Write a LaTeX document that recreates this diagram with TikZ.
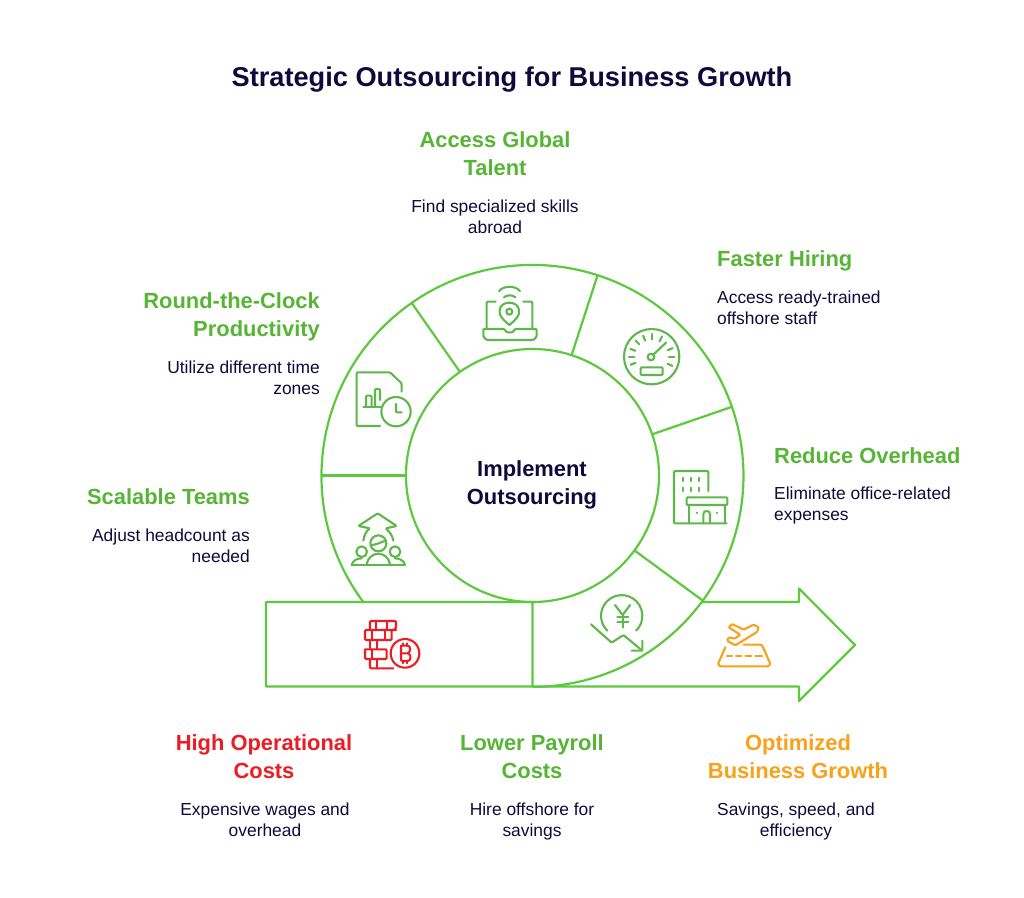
\documentclass[tikz,border=0pt]{standalone}
\usepackage{fontspec}
\usetikzlibrary{calc}
\setmainfont{Liberation Sans}
\definecolor{lineg}{HTML}{5CC93F}
\definecolor{headg}{HTML}{57B536}
\definecolor{icong}{HTML}{5DB74A}
\definecolor{navy}{HTML}{100A3C}
\definecolor{redc}{HTML}{EC1C24}
\definecolor{orangec}{HTML}{F9A11B}
\tikzset{
  outline/.style={draw=lineg,line width=2.2pt,line join=round},
  icon/.style={draw=icong,line width=2.1pt,line cap=round,line join=round,rounded corners=1pt},
  redicon/.style={icon,draw=redc},
  orangeicon/.style={icon,draw=orangec},
  head/.style={inner sep=0pt,font=\fontsize{21.9}{28}\selectfont\bfseries},
  body/.style={inner sep=0pt,text=navy,font=\fontsize{17.4}{21}\selectfont},
}
\begin{document}
\begin{tikzpicture}[x=1pt,y=1pt,yscale=-1]
\useasboundingbox (0,0) rectangle (1024,897);
\fill[white] (0,0) rectangle (1024,897);
\coordinate (c) at (532.5,475.5);
% arrow
\coordinate (barTL) at (266,602);
\coordinate (barTM) at (532.5,602);
\coordinate (barBM) at (532.5,686.5);
\coordinate (barBL) at (266,686.5);
\coordinate (arS) at (702,602);
\coordinate (tip) at (855,645);
\draw[outline] (barBM) -- (barTM) -- (barTL) -- (barBL) -- (barBM) -- (799,686.5) -- (799,701) -- (tip) -- (799,588.5) -- (799,602) -- (arS);
% rings
\draw[outline] (c) circle[radius=126.5pt];
\draw[outline] (363.3,602) arc[start angle=143.3,end angle=450,radius=211pt];
% dividers
\foreach \a in {180,235,288,341,36.3}
  \draw[outline] ($(c)+(\a:126.5pt)$) -- ($(c)+(\a:211pt)$);
% title
\node[inner sep=0pt,text=navy,font=\fontsize{27.2}{32}\selectfont\bfseries] (title) at (512,80) {Strategic Outsourcing for Business Growth};
% centre
\node[head,text=navy,align=center] (centre) at (532,485) {Implement\\Outsourcing};
% labels
\node[head,text=headg,align=center] (h1) at (495,154) {Access Global\\Talent};
\node[body,align=center] (b1) at (495,217) {Find specialized skills\\abroad};
\node[head,text=headg,anchor=west] (h2) at (717,261) {Faster Hiring};
\node[body,align=left,anchor=west] (b2) at (717,308) {Access ready-trained\\offshore staff};
\node[head,text=headg,align=right,anchor=east] (h3) at (320,317) {Round-the-Clock\\Productivity};
\node[body,align=right,anchor=east] (b3) at (320,378) {Utilize different time\\zones};
\node[head,text=headg,anchor=west] (h4) at (774,456) {Reduce Overhead};
\node[body,align=left,anchor=west] (b4) at (774,505) {Eliminate office-related\\expenses};
\node[head,text=headg,anchor=east] (h5) at (250,497) {Scalable Teams};
\node[body,align=right,anchor=east] (b5) at (250,546) {Adjust headcount as\\needed};
\node[head,text=redc,align=center] (h6) at (264,757) {High Operational\\Costs};
\node[body,align=center] (b6) at (265,820) {Expensive wages and\\overhead};
\node[head,text=headg,align=center] (h7) at (532,757) {Lower Payroll\\Costs};
\node[body,align=center] (b7) at (532,821) {Hire offshore for\\savings};
\node[head,text=orangec,align=center] (h8) at (798,757) {Optimized\\Business Growth};
\node[body,align=center] (b8) at (796,821) {Savings, speed, and\\efficiency};
% laptop
\begin{scope}[shift={(330,280)},scale=1/3]
\draw[icon] (497,65) -- (470,65) -- (470,145);
\draw[icon] (580,65) -- (607,65) -- (607,145);
\draw[icon] (523,147) -- (460,147) -- (460,170) -- (470,180) -- (610,180) -- (620,170) -- (620,147) -- (555,147) -- (548,157) -- (530,157) -- cycle;
\draw[icon] (538,135) .. controls (520,120) and (509,108) .. (509,95) .. controls (509,60) and (567,60) .. (567,95) .. controls (567,108) and (556,120) .. (538,135);
\draw[icon] (538,95) circle[radius=9];
\draw[icon] (522,52) .. controls (530,44) and (548,44) .. (556,52);
\draw[icon] (507,33) .. controls (522,16) and (555,16) .. (570,33);
% document with clock
\draw[icon] (150,438) -- (80,438) -- (80,277) -- (180,277) -- (215,310) -- (215,335);
\draw[icon] (198,395) circle[radius=44];
\draw[icon] (198,372) -- (198,397) -- (215,397);
\draw[icon] (100,381) -- (152,381);
\draw[icon] (108,381) -- (108,347) -- (125,347) -- (125,381);
\draw[icon] (135,381) -- (135,327) -- (150,327) -- (150,360);
\end{scope}
% speedometer and building
\begin{scope}[shift={(600,310)},scale=1/3]
\draw[icon] (155,140) circle[radius=83];
\draw[icon] (153,141) circle[radius=10];
\draw[icon] (160,134) -- (198,98);
\draw[icon] (122,172) rectangle (188,195);
\foreach \a in {159,180,200,225,248,270,297,338,0,24}
  \draw[icon] ([shift={(\a:52)}]155,140) -- ([shift={(\a:68)}]155,140);
\draw[icon] (325,543) -- (325,483) -- (222,483) -- (222,640) -- (380,640);
\foreach \xx in {248,272,298} \foreach \yy in {508,538}
  \draw[icon] (\xx,\yy-5) -- (\xx,\yy+5);
\draw[icon] (260,562) rectangle (382,585);
\draw[icon] (268,585) -- (268,640);
\draw[icon] (375,585) -- (375,640);
\draw[icon] (310,640) -- (310,615) .. controls (310,600) and (330,600) .. (330,615) -- (330,640);
\draw[icon] (290,608) -- (290,609);
\draw[icon] (352,608) -- (352,609);
\end{scope}
% scalable teams
\begin{scope}[shift={(340,500)},scale=1/3]
\draw[icon] (70,122) .. controls (72,105) and (80,92) .. (90,85) -- (55,78) -- (113,40) -- (170,78) -- (137,85) .. controls (148,95) and (157,105) .. (160,122);
\draw[icon] (115,130) circle[radius=24];
\draw[icon] (93,135) .. controls (110,135) and (125,125) .. (137,122);
\draw[icon] (65,155) circle[radius=16];
\draw[icon] (165,155) circle[radius=16];
\draw[icon] (35,195) -- (195,195);
\draw[icon] (35,195) .. controls (38,182) and (50,175) .. (65,175);
\draw[icon] (195,195) .. controls (192,182) and (180,175) .. (165,175);
\draw[icon] (80,195) .. controls (85,150) and (145,150) .. (150,195);
\end{scope}
% coins
\begin{scope}[shift={(250,560)},scale=1/3]
\draw[redicon] (430,210) -- (438,205) -- (438,183) -- (360,183) -- (360,210);
\draw[redicon] (438,210) -- (345,210) -- (345,240) -- (425,240) -- (425,210);
\draw[redicon] (360,240) -- (360,268);
\draw[redicon] (345,268) -- (345,297) -- (410,297) -- (410,268) -- (345,268);
\draw[redicon] (360,297) -- (360,325) -- (430,325);
\draw[redicon] (378,183) -- (378,210);
\draw[redicon] (410,183) -- (410,210);
\draw[redicon] (365,210) -- (365,240);
\draw[redicon] (405,210) -- (405,240);
\draw[redicon] (380,240) -- (380,268);
\draw[redicon] (365,268) -- (365,297);
\draw[redicon] (380,297) -- (380,325);
\end{scope}
\begin{scope}[shift={(360,615)},scale=1/3]
\draw[redicon] (135,115) circle[radius=43];
\draw[redicon] (123,92) -- (146,92) -- (150,97) -- (150,108) -- (145,115) -- (123,115);
\draw[redicon] (145,115) -- (151,121) -- (151,133) -- (146,138) -- (123,138) -- (123,92);
\draw[redicon] (128,85) -- (128,92);
\draw[redicon] (140,85) -- (140,92);
\draw[redicon] (128,138) -- (128,145);
\draw[redicon] (140,138) -- (140,145);
\end{scope}
% yen and plane
\begin{scope}[shift={(530,560)},scale=1/3]
\draw[icon] (232,212) arc[start angle=134,end angle=406,radius=62];
\draw[icon] (255,135) -- (278,165) -- (300,135);
\draw[icon] (278,165) -- (278,203);
\draw[icon] (262,170) -- (295,170);
\draw[icon] (262,185) -- (295,185);
\draw[icon] (183,193) -- (245,248) -- (280,225) -- (337,272);
\draw[icon] (337,242) -- (337,272) -- (305,272);
\draw[orangeicon] (586,262) -- (564,312) -- (570,319) -- (715,319) -- (721,312) -- (698,259) -- (694,254) -- (641,254);
\draw[orangeicon] (591,289) -- (606,289) (618,289) -- (634,289) (646,289) -- (664,289) (676,289) -- (696,289);
\draw[orangeicon] (596,202) -- (606,192) -- (641,209) -- (671,194) -- (686,202) -- (681,216) -- (616,256) -- (591,242) -- (596,232) -- (614,236) -- (631,224) -- cycle;
\end{scope}
\end{tikzpicture}
\end{document}
